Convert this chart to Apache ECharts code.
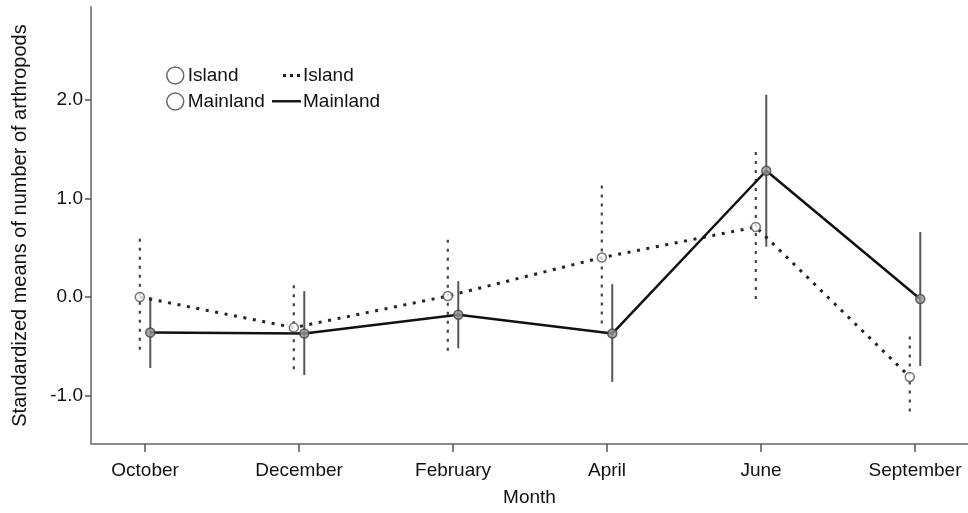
<!DOCTYPE html>
<html>
<head>
<meta charset="utf-8">
<script src="https://cdn.jsdelivr.net/npm/echarts@6/dist/echarts.min.js"></script>
<style>html,body{margin:0;padding:0;background:#fff}#c{width:968px;height:513px}</style>
</head>
<body>
<div id="c"></div>
<script>
// ---- data ----
const months = ['October', 'December', 'February', 'April', 'June', 'September'];
const islandMean = [0.00, -0.31, 0.01, 0.40, 0.71, -0.81];
const islandLow = [-0.59, -0.74, -0.55, -0.32, -0.06, -1.21];
const islandHigh = [0.59, 0.12, 0.58, 1.13, 1.47, -0.40];
const mainlandMean = [-0.36, -0.37, -0.18, -0.37, 1.28, -0.02];
const mainlandLow = [-0.72, -0.79, -0.52, -0.86, 0.51, -0.70];
const mainlandHigh = [0.00, 0.06, 0.16, 0.13, 2.05, 0.66];
const yTicks = [-1, 0, 1, 2];

// ---- styling / layout ----
const OFF = 0.034; // horizontal dodge between groups (axis units)
const FONT = 'Liberation Sans, Arial, sans-serif';
const TXT = '#111';
const idx = months.map((m, i) => i);

const islandPts = idx.map(i => [i - OFF, islandMean[i]]);
const mainlandPts = idx.map(i => [i + OFF, mainlandMean[i]]);
const islandErr = idx.map(i => [i - OFF, islandLow[i], islandHigh[i]]);
const mainlandErr = idx.map(i => [i + OFF, mainlandLow[i], mainlandHigh[i]]);

function errRender(color, width, dash) {
  return function (params, api) {
    const p1 = api.coord([api.value(0), api.value(2)]);
    const p2 = api.coord([api.value(0), api.value(1)]);
    return {
      type: 'line',
      shape: { x1: p1[0], y1: p1[1], x2: p2[0], y2: p2[1] },
      style: { stroke: color, lineWidth: width, lineDash: dash }
    };
  };
}

// legend glyphs in a 30x17 box (corner specks fix the bounding box)
const BOX = 'M0,0h0.01v0.01h-0.01z M29.99,16.99h0.01v0.01h-0.01z ';
const DOTTED_ICON = 'path://' + BOX + 'M11,7h3v3h-3z M18,7h3v3h-3z M25,7h3v3h-3z';
const SOLID_ICON = 'path://' + BOX + 'M0,7h29v2.4h-29z';

const chart = echarts.init(document.getElementById('c'), null, { renderer: 'canvas' });
chart.setOption({
  animation: false,
  backgroundColor: '#fff',
  textStyle: { fontFamily: FONT },
  grid: { left: 91, right: 0, top: 7, bottom: 69, containLabel: false },
  legend: [
    {
      left: 161, top: 61, orient: 'vertical', itemGap: 7,
      itemWidth: 17, itemHeight: 17,
      data: [{ name: 'Island ', icon: 'circle' }, { name: 'Mainland ', icon: 'circle' }],
      itemStyle: { color: '#fff', borderColor: '#444', borderWidth: 1.5 },
      textStyle: { fontSize: 19, color: TXT, fontFamily: FONT, padding: [0, 0, 0, -1] },
      selectedMode: false
    },
    {
      left: 267, top: 61, orient: 'vertical', itemGap: 7,
      itemWidth: 30, itemHeight: 17,
      data: [{ name: 'Island', icon: DOTTED_ICON }, { name: 'Mainland', icon: SOLID_ICON }],
      itemStyle: { color: '#1a1a1a', borderWidth: 0 },
      textStyle: { fontSize: 19, color: TXT, fontFamily: FONT, padding: [0, 0, 0, -4] },
      selectedMode: false
    }
  ],
  xAxis: {
    type: 'value', min: -0.351, max: 5.344,
    name: 'Month', nameLocation: 'middle', nameGap: 44,
    nameTextStyle: { fontSize: 19, color: TXT, fontFamily: FONT },
    axisLine: { show: true, onZero: false, lineStyle: { color: '#8a8a8a', width: 2 } },
    axisTick: { show: true, customValues: idx, length: 8, lineStyle: { color: '#555', width: 1.5 } },
    axisLabel: { customValues: idx, formatter: v => months[Math.round(v)], fontSize: 19, color: TXT, margin: 17, fontFamily: FONT },
    splitLine: { show: false }
  },
  yAxis: {
    type: 'value', min: -1.49, max: 2.94,
    name: 'Standardized means of number of arthropods', nameLocation: 'middle', nameGap: 61,
    nameTextStyle: { fontSize: 20, color: TXT, fontFamily: FONT },
    axisLine: { show: true, onZero: false, lineStyle: { color: '#8a8a8a', width: 2 } },
    axisTick: { show: true, customValues: yTicks, length: 6, lineStyle: { color: '#555', width: 1.5 } },
    axisLabel: { customValues: yTicks, formatter: v => v.toFixed(1), fontSize: 19, color: TXT, margin: 8, fontFamily: FONT },
    splitLine: { show: false }
  },
  series: [
    {
      name: 'Island', type: 'line', data: islandPts, symbol: 'none', z: 3,
      color: '#222',
      lineStyle: { color: '#222', width: 3, type: [3, 6.6], cap: 'butt' }
    },
    {
      name: 'Mainland', type: 'line', data: mainlandPts, symbol: 'none', z: 3,
      color: '#111',
      lineStyle: { color: '#111', width: 2.5, type: 'solid' }
    },
    {
      name: 'Island err', type: 'custom', data: islandErr, z: 2,
      renderItem: errRender('#444', 2.2, [3, 6])
    },
    {
      name: 'Mainland err', type: 'custom', data: mainlandErr, z: 2,
      renderItem: errRender('#555', 2, null)
    },
    {
      name: 'Island ', type: 'scatter', data: islandPts, symbol: 'circle', symbolSize: 9, z: 4,
      itemStyle: { color: '#fff', borderColor: '#555', borderWidth: 1.5 }
    },
    {
      name: 'Mainland ', type: 'scatter', data: mainlandPts, symbol: 'circle', symbolSize: 9, z: 4,
      itemStyle: { color: '#999', borderColor: '#444', borderWidth: 1.5 }
    }
  ]
});
</script>
</body>
</html>
